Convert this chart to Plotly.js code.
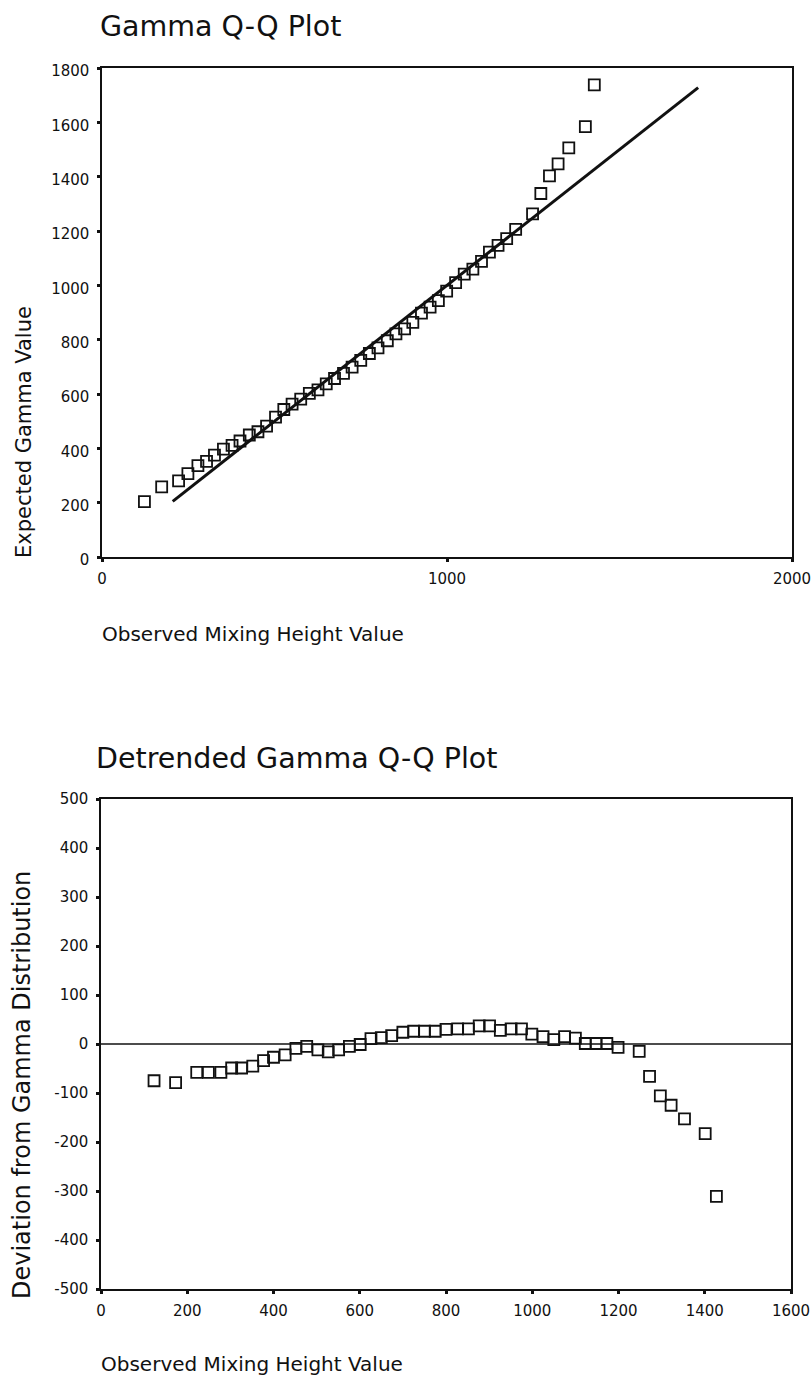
<!DOCTYPE html>
<html>
<head>
<meta charset="utf-8">
<script src="https://cdn.plot.ly/plotly-3.0.1.min.js"></script>
<style>html,body{margin:0;padding:0;background:#fff;}#chart{width:812px;height:1379px;}</style>
</head>
<body>
<div id="chart"></div>
<script>
// Observed mixing height values (x of both plots)
const observed = [123,173,222,249,278,303,326,352,377,400,427,452,477,503,527,551,576,601,626,650,674,700,725,750,775,800,827,852,877,901,926,951,975,999,1025,1050,1075,1100,1123,1148,1173,1199,1248,1272,1297,1322,1353,1401,1427];
// Expected gamma values (top plot y)
const expected = [204,258,280,307,336,352,375,397,411,427,449,461,482,515,543,563,581,602,615,637,657,676,699,724,749,770,796,821,840,864,898,920,944,979,1010,1041,1060,1088,1122,1147,1172,1206,1263,1338,1403,1447,1506,1584,1738];
// Deviation from gamma distribution (bottom plot y)
const deviation = [-75,-79,-58,-58,-58,-49,-49,-45,-34,-27,-22,-9,-5,-12,-16,-12,-5,-1,11,13,17,24,26,26,26,30,31,31,37,37,28,31,31,20,15,9,15,12,1,1,1,-7,-15,-66,-106,-125,-153,-183,-311];
// Reference line endpoints (top plot)
const refLineX = [205, 1728];
const refLineY = [205, 1728];
// Zero line (bottom plot)
const zeroLineX = [0, 1600];
const zeroLineY = [0, 0];

const topXTicks = [0, 1000, 2000];
const topXLabels = ['0', '1000', '2000'];
const topYTicks = [0, 200, 400, 600, 800, 1000, 1200, 1400, 1600, 1800];
const topYLabels = ['0', '200', '400', '600', '800', '1000', '1200', '1400', '1600', '1800'];
const botXTicks = [0, 200, 400, 600, 800, 1000, 1200, 1400, 1600];
const botXLabels = ['0', '200', '400', '600', '800', '1000', '1200', '1400', '1600'];
const botYTicks = [-500, -400, -300, -200, -100, 0, 100, 200, 300, 400, 500];
const botYLabels = ['-500', '-400', '-300', '-200', '-100', '0', '100', '200', '300', '400', '500'];

const W = 812, H = 1379;
const px = x => x / W;
const py = y => 1 - y / H;

const ink = '#111';
const tickFont = {family: 'DejaVu Sans', size: 15, color: ink};
const markerStyle = {symbol: 'square-open', size: 11, color: ink, line: {width: 1.8, color: ink}};

const traces = [
  {x: refLineX, y: refLineY, xaxis: 'x', yaxis: 'y', mode: 'lines', line: {color: ink, width: 3}, hoverinfo: 'skip'},
  {x: observed, y: expected, xaxis: 'x', yaxis: 'y', mode: 'markers', marker: markerStyle},
  {x: zeroLineX, y: zeroLineY, xaxis: 'x2', yaxis: 'y2', mode: 'lines', line: {color: ink, width: 1.3}, hoverinfo: 'skip'},
  {x: observed, y: deviation, xaxis: 'x2', yaxis: 'y2', mode: 'markers', marker: markerStyle}
];

function axis(extra) {
  return Object.assign({
    showgrid: false, zeroline: false, showline: true, mirror: true,
    linecolor: ink, linewidth: 1.6,
    ticks: 'outside', ticklen: 3, tickwidth: 3, tickcolor: ink,
    tickfont: tickFont, fixedrange: true, tickmode: 'array'
  }, extra);
}

const layout = {
  width: W, height: H,
  margin: {l: 0, r: 0, t: 0, b: 0},
  paper_bgcolor: '#fff', plot_bgcolor: '#fff',
  showlegend: false,
  xaxis: axis({domain: [px(102), px(792)], range: [0, 2000], tickvals: topXTicks, ticktext: topXLabels, anchor: 'y', ticklabelstandoff: 4}),
  yaxis: axis({domain: [py(557), py(68)], range: [0, 1800], tickvals: topYTicks, ticktext: topYLabels, anchor: 'x', ticklabelstandoff: 5, ticklabelshift: 3}),
  xaxis2: axis({domain: [px(101), px(791)], range: [0, 1600], tickvals: botXTicks, ticktext: botXLabels, anchor: 'y2', ticklabelstandoff: 4}),
  yaxis2: axis({domain: [py(1289), py(799)], range: [-500, 500], tickvals: botYTicks, ticktext: botYLabels, anchor: 'x2', ticklabelstandoff: 5}),
  annotations: [
    {text: 'Gamma Q-Q Plot', xref: 'paper', yref: 'paper', x: px(98), y: py(27), xanchor: 'left', yanchor: 'middle', showarrow: false, font: {family: 'DejaVu Sans', size: 28.5, color: ink}},
    {text: 'Observed Mixing Height Value', xref: 'paper', yref: 'paper', x: px(100), y: py(634), xanchor: 'left', yanchor: 'middle', showarrow: false, font: {family: 'DejaVu Sans', size: 20, color: ink}},
    {text: 'Expected Gamma Value', xref: 'paper', yref: 'paper', x: px(24), y: py(432), xanchor: 'center', yanchor: 'middle', textangle: -90, showarrow: false, font: {family: 'DejaVu Sans', size: 21, color: ink}},
    {text: 'Detrended Gamma Q-Q Plot', xref: 'paper', yref: 'paper', x: px(94), y: py(758), xanchor: 'left', yanchor: 'middle', showarrow: false, font: {family: 'DejaVu Sans', size: 28.5, color: ink}},
    {text: 'Observed Mixing Height Value', xref: 'paper', yref: 'paper', x: px(99), y: py(1364), xanchor: 'left', yanchor: 'middle', showarrow: false, font: {family: 'DejaVu Sans', size: 20, color: ink}},
    {text: 'Deviation from Gamma Distribution', xref: 'paper', yref: 'paper', x: px(22), y: py(1085), xanchor: 'center', yanchor: 'middle', textangle: -90, showarrow: false, font: {family: 'DejaVu Sans', size: 24, color: ink}}
  ]
};

Plotly.newPlot('chart', traces, layout, {displayModeBar: false, staticPlot: true});
</script>
</body>
</html>
